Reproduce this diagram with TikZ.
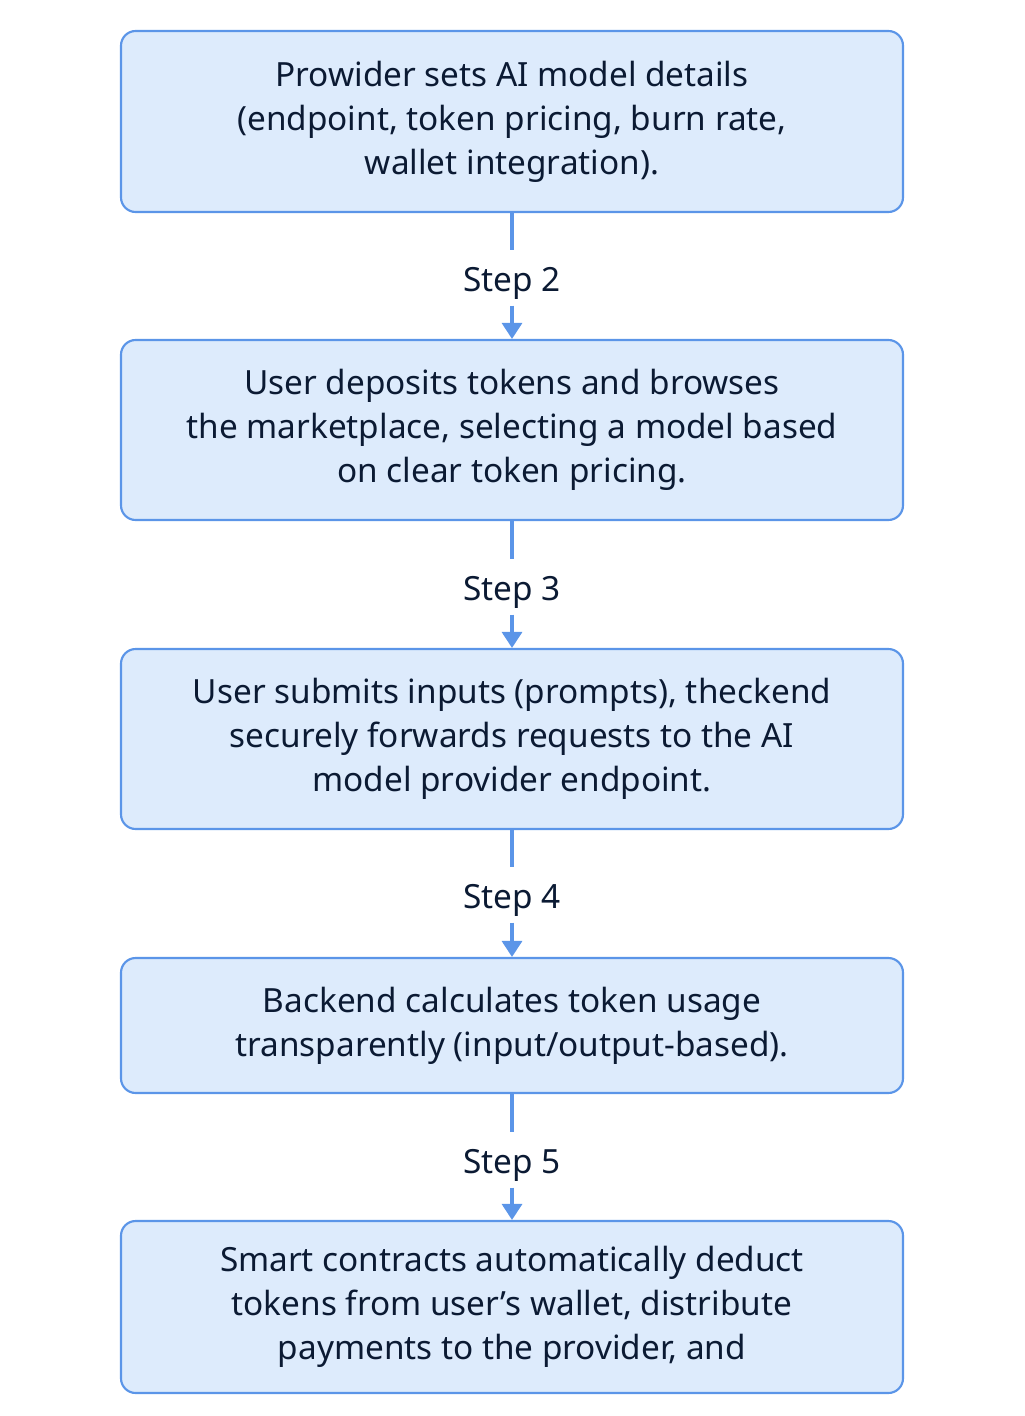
\documentclass[tikz,border=0pt]{standalone}
\usepackage{fontspec}
\setmainfont{Noto Sans}
\usetikzlibrary{arrows.meta, positioning}
\definecolor{boxfill}{HTML}{DDEBFC}
\definecolor{boxline}{HTML}{5B95E8}
\definecolor{ink}{HTML}{0B1A33}
\newcommand{\stepfont}{\fontsize{25}{33}\selectfont}

\begin{document}
\begin{tikzpicture}[x=0.75pt, y=-0.75pt,
  stagebox/.style={draw=boxline, fill=boxfill, line width=1.6pt, rounded corners=11pt,
    minimum width=586.5pt, text=ink, align=center, font=\stepfont, inner sep=0pt},
  steplabel/.style={text=ink, font=\stepfont, inner sep=0pt, text height=22.5pt, text depth=2.5pt,
    minimum height=41pt},
  link/.style={draw=boxline, line width=2.4pt},
  flow/.style={link, -{Triangle[width=15pt, length=12pt]}}]
\useasboundingbox (0,0) rectangle (1024,1416);
% Boxes
\node[stagebox, minimum height=135.75pt] (s1) at (512,121.5)
  {Prowider sets AI model details\\(endpoint, token pricing, burn rate,\\wallet integration).};
\node[stagebox, minimum height=135pt] (s2) at (512,430)
  {User deposits tokens and browses\\the marketplace, selecting a model based\\on clear token pricing.};
\node[stagebox, minimum height=135pt] (s3) at (512,739)
  {User submits inputs (prompts), theckend\\securely forwards requests to the AI\\model provider endpoint.};
\node[stagebox, minimum height=101.25pt] (s4) at (512,1025.5)
  {Backend calculates token usage\\transparently (input/output-based).};
\node[stagebox, minimum height=129pt] (s5) at (512,1307)
  {Smart contracts automatically deduct\\tokens from user’s wallet, distribute\\payments to the provider, and};
% Step labels
\node[steplabel] (l2) at (512,278) {Step 2};
\node[steplabel] (l3) at (512,587) {Step 3};
\node[steplabel] (l4) at (512,895) {Step 4};
\node[steplabel] (l5) at (512,1160) {Step 5};
% Connectors
\draw[link] (s1) -- (l2);
\draw[flow] (l2) -- (s2);
\draw[link] (s2) -- (l3);
\draw[flow] (l3) -- (s3);
\draw[link] (s3) -- (l4);
\draw[flow] (l4) -- (s4);
\draw[link] (s4) -- (l5);
\draw[flow] (l5) -- (s5);
\end{tikzpicture}
\end{document}
